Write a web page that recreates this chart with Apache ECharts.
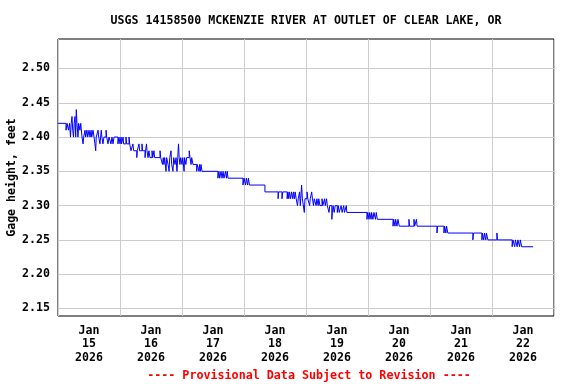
<!DOCTYPE html>
<html>
<head>
<meta charset="utf-8">
<script src="https://cdn.jsdelivr.net/npm/echarts@6/dist/echarts.min.js"></script>
<style>
html,body{margin:0;padding:0;background:#fff;}
#c{width:576px;height:384px;}
</style>
</head>
<body>
<div id="c"></div>
<script>
const titleText = 'USGS 14158500 MCKENZIE RIVER AT OUTLET OF CLEAR LAKE, OR';
const footText = '---- Provisional Data Subject to Revision ----';
const yAxisName = 'Gage height, feet';
const dayLabels = ['Jan\n15\n2026','Jan\n16\n2026','Jan\n17\n2026','Jan\n18\n2026','Jan\n19\n2026','Jan\n20\n2026','Jan\n21\n2026','Jan\n22\n2026'];
const yTicks = [2.15, 2.20, 2.25, 2.30, 2.35, 2.40, 2.45, 2.50];
const yMin = 2.139, yMax = 2.543;

// hours after 2026-01-15 00:00 at which the reading changes
const obsHours = [
0,3.1,3.5,4.06,4.45,4.84,5.1,5.42,5.7,6.0,6.27,6.58,6.85,7.08,7.35,7.74,8.0,8.5,8.8,9.3,9.7,9.95,
10.45,10.7,11.2,11.5,12,12.4,12.8,13.05,13.55,13.95,14.3,14.6,14.8,15.5,15.75,16.25,16.5,16.75,17.0,
17.4,17.8,18.6,18.85,19.35,19.75,20.5,20.9,21.3,21.7,23.2,23.6,
24.0,24.4,24.6,25.2,25.4,26.3,26.6,27.5,27.75,28.25,29.0,29.3,30.5,30.7,31.35,31.6,32.5,32.75,33.7,
33.9,34.25,34.45,34.85,35.2,35.6,36.4,36.65,37.15,37.4,39.5,39.75,40.45,40.75,41.0,41.3,41.8,42.05,
42.6,43.0,43.25,43.75,44.0,44.5,44.8,45.3,45.7,46.05,46.35,46.65,46.9,47.2,47.5,
48.0,48.3,48.8,49.0,49.5,49.8,50.8,51.1,51.5,51.75,52.25,53.7,53.9,54.6,54.8,55.1,55.35,55.75,
61.9,62.3,62.6,63.1,63.5,63.9,64.25,64.85,65.2,65.5,65.8,
71.6,72.0,72.6,72.9,73.4,73.7,74.1,80.1,85.2,85.4,86.7,87.0,88.7,89.0,89.35,89.6,90.05,90.4,90.9,
91.15,91.55,91.8,92.2,92.7,93.0,93.5,93.8,94.3,94.6,95.35,95.6,
96.4,96.7,97.4,97.65,98.2,98.5,98.9,99.2,99.9,100.2,100.7,100.95,101.4,102.2,102.5,103.2,103.45,
103.95,104.25,104.9,105.2,106.0,106.2,106.5,106.9,107.3,108.1,108.5,108.85,109.6,110.0,110.6,110.9,
111.6,111.8,119.6,119.9,
120.4,120.65,121.2,121.4,121.9,122.3,122.9,123.2,123.6,129.7,129.95,130.45,130.7,131.2,131.6,132.1,
135.85,136.1,137.8,138.05,138.75,139.0,
146.7,146.95,149.4,149.65,150.15,150.4,150.9,160.6,160.85,164.1,164.3,164.8,165.1,165.6,165.85,166.4,
169.9,170.1,175.8,176.1,176.8,177.05,177.75,178.0,178.7,178.95,179.5,183.9
];
// gage height, feet
const gageHeight = [
2.42,2.41,2.42,2.41,2.42,2.40,2.42,2.43,2.41,2.40,2.42,2.43,2.40,2.44,2.42,2.40,2.42,2.41,2.42,2.40,2.39,2.40,
2.41,2.40,2.41,2.40,2.41,2.40,2.41,2.40,2.41,2.40,2.39,2.38,2.40,2.41,2.40,2.39,2.40,2.41,2.40,
2.39,2.40,2.41,2.40,2.39,2.40,2.39,2.40,2.39,2.40,2.39,2.40,
2.39,2.40,2.39,2.40,2.39,2.40,2.39,2.40,2.39,2.38,2.39,2.38,2.37,2.38,2.39,2.38,2.39,2.38,2.37,
2.38,2.39,2.38,2.37,2.38,2.37,2.38,2.37,2.38,2.37,2.38,2.37,2.36,2.37,2.36,2.37,2.35,2.37,
2.36,2.35,2.37,2.38,2.36,2.35,2.37,2.36,2.37,2.35,2.37,2.39,2.37,2.36,2.37,
2.36,2.37,2.35,2.37,2.36,2.37,2.38,2.37,2.36,2.37,2.36,2.35,2.36,2.35,2.36,2.35,2.36,2.35,
2.34,2.35,2.34,2.35,2.34,2.35,2.34,2.35,2.34,2.35,2.34,
2.33,2.34,2.33,2.34,2.33,2.34,2.33,2.32,2.31,2.32,2.31,2.32,2.31,2.32,2.31,2.32,2.31,2.32,2.31,
2.32,2.31,2.32,2.31,2.30,2.31,2.32,2.30,2.33,2.31,2.29,2.31,
2.32,2.31,2.30,2.31,2.32,2.31,2.30,2.31,2.30,2.31,2.30,2.31,2.30,2.31,2.30,2.31,2.30,
2.31,2.30,2.29,2.30,2.28,2.29,2.30,2.29,2.30,2.29,2.30,2.29,2.30,2.29,2.30,2.29,
2.30,2.29,2.28,2.29,
2.28,2.29,2.28,2.29,2.28,2.29,2.28,2.29,2.28,2.27,2.28,2.27,2.28,2.27,2.28,2.27,
2.28,2.27,2.28,2.27,2.28,2.27,
2.26,2.27,2.26,2.27,2.26,2.27,2.26,2.25,2.26,2.25,2.26,2.25,2.26,2.25,2.26,2.25,
2.26,2.25,2.24,2.25,2.24,2.25,2.24,2.25,2.24,2.25,2.24,2.24
];

const HOUR = 3600000;
const t0 = new Date(2026, 0, 15, 0, 0, 0).getTime();
const seriesData = obsHours.map((h, i) => [t0 + h * HOUR, gageHeight[i]]);

const FONT = '"DejaVu Sans Mono", "Liberation Mono", monospace';
const chart = echarts.init(document.getElementById('c'), null, {renderer: 'canvas'});
chart.setOption({
  animation: false,
  backgroundColor: '#ffffff',
  grid: {left: 58, right: 22, top: 39, bottom: 68, show: true, borderColor: '#000', borderWidth: 1,
         backgroundColor: 'transparent', containLabel: false, outerBoundsMode: 'none'},
  xAxis: [
    {type: 'time', min: t0, max: t0 + 8 * 24 * HOUR, show: false},
    {type: 'category', data: dayLabels, boundaryGap: true, position: 'bottom',
     axisLine: {show: false}, axisTick: {show: false},
     axisLabel: {color: '#000', fontFamily: FONT, fontWeight: 'bold', fontSize: 11.6, lineHeight: 13.5, margin: 8, interval: 0},
     splitLine: {show: true, interval: 0, lineStyle: {color: '#cccccc', width: 1}}}
  ],
  yAxis: [{
    type: 'value', min: yMin, max: yMax,
    name: yAxisName, nameLocation: 'middle', nameGap: 40, nameMoveOverlap: false,
    nameTextStyle: {color: '#000', fontFamily: FONT, fontWeight: 'bold', fontSize: 11.6},
    axisLine: {show: false},
    axisTick: {show: false, customValues: yTicks},
    axisLabel: {color: '#000', fontFamily: FONT, fontWeight: 'bold', fontSize: 11.6, margin: 8,
      customValues: yTicks, formatter: v => v.toFixed(2)},
    splitLine: {show: true, lineStyle: {color: '#cccccc', width: 1}}
  }],
  series: [{
    type: 'line', xAxisIndex: 0, yAxisIndex: 0, data: seriesData,
    step: 'end', showSymbol: false, symbol: 'none',
    lineStyle: {color: '#0000ff', width: 1}, z: 5
  }],
  graphic: [
    {type: 'text', x: 306, y: 21, style: {text: titleText, fill: '#000', font: 'bold 11.6px ' + FONT, textAlign: 'center', textVerticalAlign: 'middle'}},
    {type: 'text', x: 309, y: 376, style: {text: footText, fill: '#ff0000', font: 'bold 11.7px ' + FONT, textAlign: 'center', textVerticalAlign: 'middle'}}
  ]
});
</script>
</body>
</html>
